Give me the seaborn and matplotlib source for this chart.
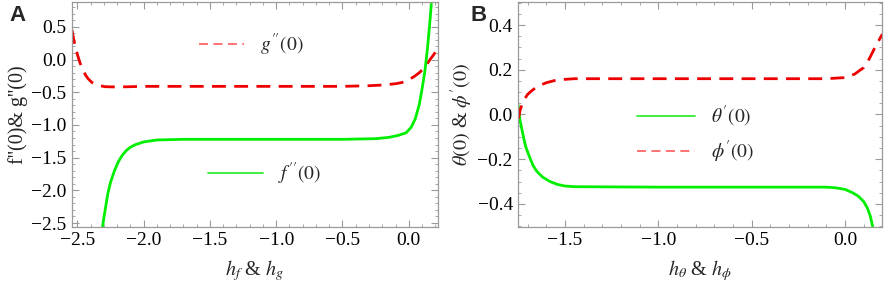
import numpy as np
import pandas as pd
import matplotlib
matplotlib.use("Agg")
import matplotlib.pyplot as plt
from matplotlib.ticker import MultipleLocator
from matplotlib.lines import Line2D
import seaborn as sns

# Panel A: f''(0) and g''(0) against h_f & h_g
hg = [-2.54, -2.53, -2.52, -2.50, -2.48, -2.46, -2.44, -2.42, -2.39, -2.36, -2.33, -2.29,
      -2.20, -2.00, -1.50, -1.00, -0.50, -0.30, -0.20, -0.10, -0.05, 0.00, 0.04, 0.08,
      0.12, 0.16, 0.19, 0.22]
g2 = [0.45, 0.34, 0.24, 0.08, -0.05, -0.15, -0.23, -0.29, -0.35, -0.38, -0.40, -0.415,
      -0.42, -0.41, -0.41, -0.41, -0.41, -0.40, -0.39, -0.37, -0.35, -0.31, -0.26, -0.20,
      -0.12, 0.00, 0.08, 0.18]

hf = [-2.31, -2.30, -2.29, -2.27, -2.25, -2.22, -2.19, -2.16, -2.13, -2.10, -2.06, -2.00,
      -1.90, -1.70, -1.00, -0.50, -0.25, -0.15, -0.08, -0.02, 0.02, 0.05, 0.08, 0.10,
      0.12, 0.14, 0.16, 0.17]
f2 = [-2.56, -2.42, -2.30, -2.05, -1.88, -1.70, -1.56, -1.46, -1.39, -1.34, -1.30, -1.26,
      -1.23, -1.22, -1.22, -1.22, -1.21, -1.19, -1.16, -1.12, -1.03, -0.90, -0.68, -0.45,
      -0.20, 0.15, 0.60, 0.85]

# Panel B: theta'(0) and phi'(0) against h_theta & h_phi
hphi = [-1.75, -1.74, -1.73, -1.72, -1.70, -1.68, -1.66, -1.63, -1.60, -1.56, -1.52,
        -1.45, -1.00, -0.50, -0.10, 0.00, 0.05, 0.10, 0.13, 0.16, 0.18, 0.20]
phi1 = [-0.02, 0.02, 0.045, 0.065, 0.09, 0.105, 0.118, 0.132, 0.142, 0.151, 0.156,
        0.16, 0.16, 0.16, 0.16, 0.165, 0.18, 0.21, 0.25, 0.30, 0.33, 0.36]

hth = [-1.75, -1.745, -1.74, -1.73, -1.72, -1.71, -1.69, -1.67, -1.65, -1.62, -1.58,
       -1.54, -1.50, -1.45, -1.00, -0.50, -0.10, -0.05, 0.00, 0.04, 0.07, 0.10, 0.12,
       0.135, 0.15]
th1 = [0.04, 0.00, -0.03, -0.07, -0.11, -0.145, -0.19, -0.23, -0.255, -0.28, -0.30,
       -0.313, -0.32, -0.323, -0.325, -0.325, -0.325, -0.328, -0.335, -0.35, -0.365, -0.39,
       -0.42, -0.455, -0.51]

sns.set_style("ticks")
plt.rcParams["font.family"] = ["Liberation Serif", "DejaVu Serif"]
plt.rcParams["mathtext.fontset"] = "stix"

green = "#00ee00"
red = "#ee0000"
dash = (0, (5, 3))

fig = plt.figure(figsize=(8.86, 2.88), dpi=100)
axA = fig.add_axes([0.0813, 0.212, 0.413, 0.781])
axB = fig.add_axes([0.585, 0.212, 0.411, 0.781])


def style_axes(ax, xmaj, xmin, ymaj, ymin):
    ax.xaxis.set_major_locator(MultipleLocator(xmaj))
    ax.xaxis.set_minor_locator(MultipleLocator(xmin))
    ax.yaxis.set_major_locator(MultipleLocator(ymaj))
    ax.yaxis.set_minor_locator(MultipleLocator(ymin))
    ax.tick_params(which="both", direction="in", top=True, right=True,
                   color="#9a9a9a", labelsize=14, labelcolor="black", pad=4)
    ax.tick_params(which="major", length=5, width=0.8)
    ax.tick_params(which="minor", length=2.5, width=0.6)
    for s in ax.spines.values():
        s.set_color("#9a9a9a")
        s.set_linewidth(0.9)


# Panel A
sns.lineplot(x=hg, y=g2, ax=axA, sort=False, color=red, lw=2, linestyle=dash, errorbar=None)
sns.lineplot(x=hf, y=f2, ax=axA, sort=False, color=green, lw=2, errorbar=None)
axA.set_xlim(-2.54, 0.22)
axA.set_ylim(-2.56, 0.88)
style_axes(axA, 0.5, 0.1, 0.5, 0.1)
axA.set_xlabel(r"$h_f$ & $h_g$", fontsize=14.5, labelpad=6)
axA.set_ylabel("f''(0)& g''(0)", fontsize=14.5, labelpad=2)

lg1 = axA.legend([Line2D([], [], color="#ff6666", lw=1.3, linestyle=dash)],
                 [r"$g^{\prime\prime}(0)$"], frameon=False, fontsize=14,
                 loc="center", bbox_to_anchor=(0.49, 0.81), handlelength=2.3)
axA.add_artist(lg1)
axA.legend([Line2D([], [], color="#33ee33", lw=1.3)],
           [r"$f^{\prime\prime}(0)$"], frameon=False, fontsize=14,
           loc="center", bbox_to_anchor=(0.527, 0.236), handlelength=2.8)

# Panel B
sns.lineplot(x=hth, y=th1, ax=axB, sort=False, color=green, lw=2, errorbar=None)
sns.lineplot(x=hphi, y=phi1, ax=axB, sort=False, color=red, lw=2, linestyle=dash, errorbar=None)
axB.set_xlim(-1.75, 0.2)
axB.set_ylim(-0.503, 0.503)
style_axes(axB, 0.5, 0.1, 0.2, 0.05)
axB.set_xlabel(r"$h_\theta$ & $h_\phi$", fontsize=14.5, labelpad=6)
axB.set_ylabel(r"$\theta(0)$ & $\phi'(0)$", fontsize=14.5, labelpad=2)
axB.legend([Line2D([], [], color="#33ee33", lw=1.3),
            Line2D([], [], color="#ff6666", lw=1.3, linestyle=dash)],
           [r"$\theta^{\prime}(0)$", r"$\phi^{\prime}(0)$"], frameon=False, fontsize=14,
           loc="center", bbox_to_anchor=(0.486, 0.41), handlelength=3.0, labelspacing=0.5)

fig.text(0.011, 0.983, "A", fontsize=16, fontweight="bold", family="Liberation Sans", va="top")
fig.text(0.531, 0.983, "B", fontsize=16, fontweight="bold", family="Liberation Sans", va="top")

fig.savefig("out.png", dpi=100)
